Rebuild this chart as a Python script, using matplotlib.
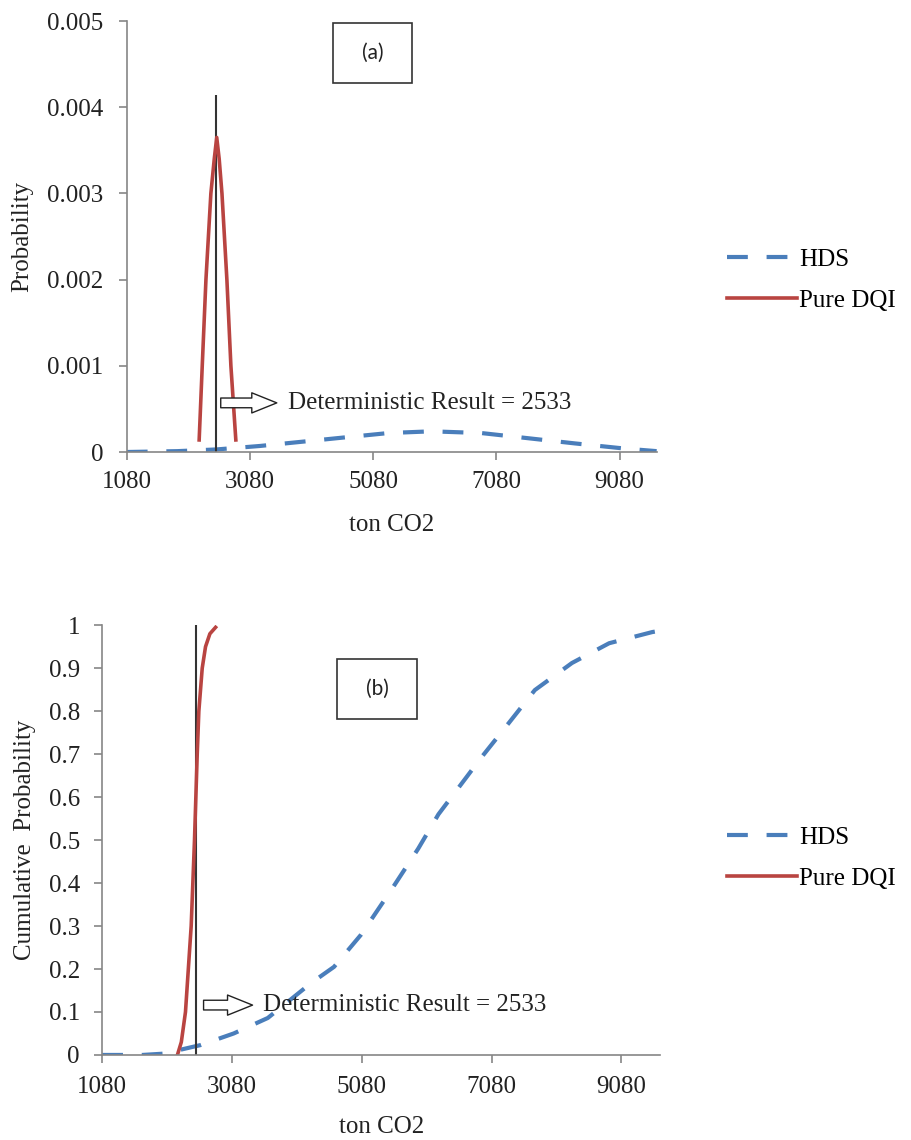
import numpy as np
import matplotlib
matplotlib.use("Agg")
import matplotlib.pyplot as plt
from matplotlib.patches import Rectangle

plt.rcParams['font.family'] = ['Liberation Serif', 'DejaVu Serif']

# ---- data ----
det_result = 2533

# (a) probability density
hds_pdf_x = [1080, 1900, 2540, 3240, 3935, 4625, 5325, 6025, 6835, 7595, 8350, 9160, 9680]
hds_pdf_y = [0, 0.00001, 0.00003, 0.00007, 0.00012, 0.00017, 0.00022, 0.00024,
             0.00022, 0.00016, 0.0001, 0.00004, 0.00001]
dqi_pdf_x = [2255, 2305, 2365, 2445, 2500, 2540, 2580, 2625, 2705, 2770, 2850]
dqi_pdf_y = [0.00014, 0.001, 0.002, 0.003, 0.0034, 0.00365, 0.0034, 0.003, 0.002, 0.001, 0.00014]

# (b) cumulative probability
hds_cdf_x = [1080, 1700, 2024, 2596, 3107, 3632, 4297, 4653, 5070, 5535, 5950,
             6262, 6927, 7344, 7747, 8319, 8892, 9557, 9680]
hds_cdf_y = [0, 0, 0.003, 0.023, 0.05, 0.086, 0.167, 0.205, 0.28, 0.384, 0.48,
             0.56, 0.693, 0.772, 0.849, 0.912, 0.958, 0.984, 0.987]
dqi_cdf_x = [2240, 2300, 2364, 2452, 2503, 2545, 2570, 2622, 2673, 2740, 2828]
dqi_cdf_y = [0, 0.03, 0.1, 0.3, 0.5, 0.7, 0.8, 0.9, 0.95, 0.98, 0.995]

xticks = [1080, 3080, 5080, 7080, 9080]
xlim = (1080, 9680)

blue = '#4a7ebb'
red = '#b94441'
grey = '#868686'
ink = '#222222'
FS = 18

fig = plt.figure(figsize=(9.12, 11.4), dpi=100)
ax1 = fig.add_axes([0.139, 0.6035, 0.581, 0.378])
ax2 = fig.add_axes([0.112, 0.0746, 0.612, 0.377])


def style(ax, ypad, xpad):
    for s in ['top', 'right']:
        ax.spines[s].set_visible(False)
    for s in ['left', 'bottom']:
        ax.spines[s].set_color(grey)
        ax.spines[s].set_linewidth(1.2)
    ax.tick_params(colors=grey, labelcolor=ink, labelsize=FS, length=6, width=1.2)
    ax.tick_params(axis='x', pad=xpad)
    ax.tick_params(axis='y', pad=ypad)
    ax.set_xlim(*xlim)
    ax.set_xticks(xticks)
    ax.set_xticklabels([str(t) for t in xticks])
    ax.set_xlabel('ton CO2', fontsize=FS, color=ink)


def hollow_arrow(ax, x0, x1, y):
    ax.annotate('', xy=(x1, y), xytext=(x0, y),
                arrowprops=dict(arrowstyle='simple,head_length=1.8,head_width=1.45,tail_width=0.7',
                                mutation_scale=10, fc='white', ec=ink, lw=1.0))


# top panel
style(ax1, 11, 8)
ax1.plot(hds_pdf_x, hds_pdf_y, color=blue, lw=3, dashes=(5, 4.5), label='HDS')
ax1.vlines(det_result, 0, 0.00414, color='#333333', lw=1.5)
ax1.plot(dqi_pdf_x, dqi_pdf_y, color=red, lw=2.6, label='Pure DQI')
ax1.set_ylim(0, 0.005)
ax1.set_yticks([0, 0.001, 0.002, 0.003, 0.004, 0.005])
ax1.set_yticklabels(['0', '0.001', '0.002', '0.003', '0.004', '0.005'])
ax1.set_ylabel('Probability', fontsize=FS, color=ink)
ax1.yaxis.set_label_coords(-0.177, 0.5)
ax1.xaxis.set_label_coords(0.5, -0.145)
hollow_arrow(ax1, 2560, 3560, 0.00057)
ax1.text(3700, 0.00057, 'Deterministic Result = 2533', fontsize=FS, va='center', color=ink)
ax1.legend(loc='center left', bbox_to_anchor=(0.797, 1 - 280 / 1140), bbox_transform=fig.transFigure,
           frameon=False, fontsize=FS, handlelength=2.8, handletextpad=0.1, labelspacing=0.75,
           borderpad=0, borderaxespad=0)

# bottom panel
style(ax2, 10, 9)
ax2.plot(hds_cdf_x, hds_cdf_y, color=blue, lw=3, dashes=(5, 4.5), label='HDS')
ax2.vlines(det_result, 0, 1.01, color='#333333', lw=1.5)
ax2.plot(dqi_cdf_x, dqi_cdf_y, color=red, lw=2.6, label='Pure DQI')
ax2.set_ylim(0, 1)
yt = [0, 0.1, 0.2, 0.3, 0.4, 0.5, 0.6, 0.7, 0.8, 0.9, 1]
ax2.set_yticks(yt)
ax2.set_yticklabels(['0'] + ['%.1f' % v for v in yt[1:-1]] + ['1'])
ax2.set_ylabel('Cumulative  Probability', fontsize=FS, color=ink)
ax2.yaxis.set_label_coords(-0.118, 0.5)
ax2.xaxis.set_label_coords(0.5, -0.143)
hollow_arrow(ax2, 2600, 3440, 0.116)
ax2.text(3560, 0.116, 'Deterministic Result = 2533', fontsize=FS, va='center', color=ink)
ax2.legend(loc='center left', bbox_to_anchor=(0.797, 1 - 858 / 1140), bbox_transform=fig.transFigure,
           frameon=False, fontsize=FS, handlelength=2.8, handletextpad=0.1, labelspacing=0.75,
           borderpad=0, borderaxespad=0)

# (a) / (b) boxes, in figure pixel coords
W, H = 912, 1140
for (x0, y0, w, h, lab) in [(333, 23, 79, 60, '(a)'), (337, 659, 80, 60, '(b)')]:
    fig.patches.append(Rectangle((x0 / W, 1 - (y0 + h) / H), w / W, h / H,
                                 transform=fig.transFigure, fill=False,
                                 ec='#333333', lw=1.2))
    fig.text((x0 + w / 2) / W, 1 - (y0 + h / 2) / H, lab, ha='center', va='center',
             fontsize=15, family=['Lato', 'DejaVu Sans'], color=ink)

plt.savefig('out.png', dpi=100)
